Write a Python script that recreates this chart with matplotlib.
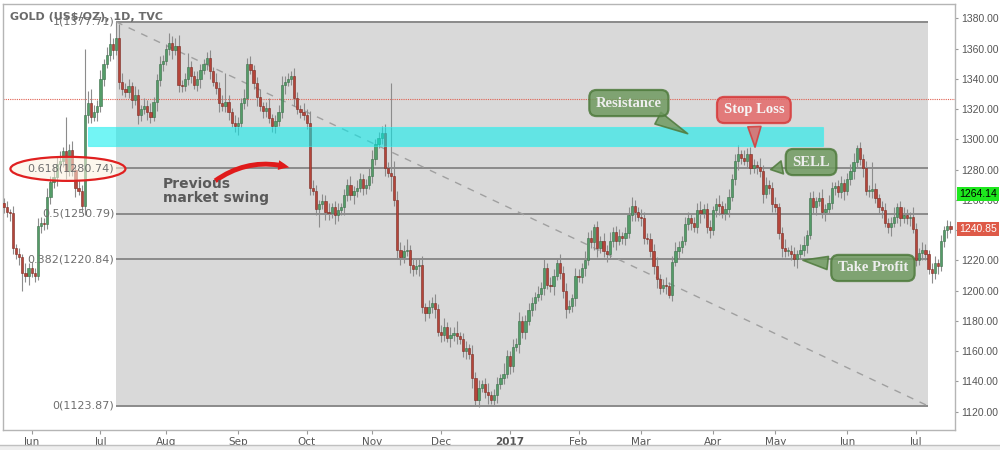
import numpy as np
import pandas as pd
import matplotlib
matplotlib.use('Agg')
import matplotlib.pyplot as plt
from matplotlib.patches import Rectangle, Ellipse

# daily closes, GOLD (US$/OZ) TVC, from 2016-05-19 (business days)
closes = [
    1255, 1252, 1251, 1228, 1224, 1222, 1212, 1210, 1215, 1212,
    1210, 1243, 1245, 1244, 1262, 1272, 1275, 1284, 1286, 1292,
    1279, 1293, 1280, 1268, 1266, 1256, 1316, 1324, 1315, 1318,
    1322, 1340, 1350, 1356, 1363, 1359, 1367, 1338, 1333, 1331,
    1335, 1326, 1329, 1316, 1320, 1322, 1318, 1315, 1325, 1339,
    1350, 1352, 1360, 1364, 1359, 1362, 1336, 1335, 1340, 1348,
    1342, 1336, 1340, 1346, 1350, 1354, 1345, 1338, 1334, 1324,
    1322, 1325, 1318, 1311, 1309, 1311, 1324, 1327, 1350, 1346,
    1337, 1328, 1322, 1319, 1321, 1314, 1309, 1312, 1318, 1336,
    1338, 1340, 1342, 1327, 1320, 1318, 1316, 1311, 1268, 1266,
    1254, 1257, 1259, 1252, 1251, 1255, 1250, 1253, 1255, 1263,
    1270, 1263, 1266, 1268, 1274, 1268, 1270, 1276, 1287, 1297,
    1301, 1304, 1281, 1278, 1276, 1260, 1227, 1222, 1226, 1227,
    1217, 1214, 1216, 1217, 1189, 1185, 1189, 1192, 1188, 1173,
    1171, 1176, 1169, 1171, 1172, 1170, 1168, 1160, 1162, 1158,
    1142, 1128, 1136, 1138, 1133, 1131, 1128, 1131, 1138, 1142,
    1145, 1157, 1150, 1163, 1165, 1180, 1173, 1180, 1187, 1192,
    1196, 1198, 1202, 1215, 1204, 1203, 1210, 1218, 1212, 1200,
    1188, 1190, 1195, 1210, 1209, 1215, 1220, 1235, 1232, 1242,
    1228, 1233, 1226, 1224, 1233, 1239, 1233, 1236, 1235, 1238,
    1250, 1256, 1252, 1249, 1248, 1235, 1234, 1226, 1216, 1208,
    1202, 1204, 1203, 1197, 1219, 1226, 1229, 1233, 1244, 1248,
    1245, 1242, 1253, 1251, 1254, 1242, 1240, 1253, 1257, 1256,
    1251, 1254, 1262, 1274, 1286, 1290, 1288, 1286, 1290, 1281,
    1283, 1282, 1279, 1264, 1270, 1268, 1257, 1255, 1238, 1228,
    1226, 1226, 1224, 1221, 1224, 1227, 1230, 1237, 1261, 1255,
    1259, 1261, 1252, 1254, 1258, 1268, 1269, 1265, 1271, 1266,
    1274, 1279, 1285, 1294, 1287, 1281, 1266, 1266, 1267, 1261,
    1255, 1253, 1245, 1242, 1245, 1249, 1255, 1248, 1250, 1248,
    1249, 1241, 1220, 1225, 1227, 1224, 1214, 1212, 1218, 1216,
    1233, 1240, 1243, 1240.85,
]
first_open = 1258

# wick lengths above / below the body
hi_wick = [
    3, 4, 2, 5, 3, 4, 2, 6, 3, 4, 3, 5, 4, 3, 6, 4, 7, 5, 6, 3,
    23, 4, 6, 3, 5, 4, 44, 8, 9, 5, 4, 6, 3, 5, 7, 4, 10.71, 9, 6, 4,
    5, 3, 6, 4, 3, 5, 4, 6, 3, 4, 5, 4, 3, 6, 4, 5, 7, 3, 4, 9,
    4, 3, 5, 4, 3, 4, 5, 3, 6, 4, 5, 19, 4, 3, 5, 4, 3, 6, 4, 5,
    3, 4, 5, 3, 4, 6, 3, 4, 5, 6, 4, 4, 3, 5, 4, 3, 6, 4, 8, 5,
    4, 3, 5, 4, 6, 3, 4, 5, 3, 4, 4, 6, 3, 5, 4, 3, 4, 5, 6, 3,
    4, 5, 6, 4, 59, 10, 6, 5, 4, 7, 3, 4, 5, 4, 6, 3, 5, 4, 6, 3,
    4, 6, 3, 5, 4, 8, 3, 4, 5, 3, 6, 4, 5, 3, 4, 6, 3, 4, 5, 3,
    7, 4, 3, 5, 4, 6, 3, 4, 5, 4, 3, 5, 4, 6, 3, 5, 4, 3, 6, 4,
    5, 4, 3, 5, 4, 3, 6, 4, 5, 2, 4, 3, 5, 4, 6, 3, 4, 5, 3, 4,
    5, 6, 4, 3, 5, 4, 3, 4, 5, 6, 3, 4, 5, 3, 4, 6, 4, 3, 5, 4,
    3, 4, 5, 6, 3, 4, 5, 3, 4, 6, 3, 4, 5, 3, 4, 6, 3, 5, 4, 5,
    4, 3, 6, 4, 5, 3, 4, 5, 3, 4, 6, 3, 4, 5, 3, 4, 6, 3, 4, 5,
    3, 4, 6, 3, 5, 4, 3, 4, 5, 3, 4, 5, 6, 2, 4, 3, 5, 4, 18, 4,
    3, 4, 5, 3, 4, 6, 3, 4, 5, 4, 3, 6, 4, 3, 5, 4, 3, 4, 5, 3,
    4, 3, 4, 3,
]
lo_wick = [
    4, 3, 5, 4, 3, 5, 12, 4, 6, 3, 4, 3, 5, 4, 3, 5, 4, 6, 3, 4,
    5, 3, 4, 6, 3, 4, 6, 5, 4, 3, 6, 4, 5, 3, 4, 6, 3, 5, 4, 3,
    4, 5, 3, 6, 4, 3, 5, 4, 3, 6, 4, 5, 3, 4, 6, 3, 5, 4, 3, 4,
    5, 3, 4, 6, 3, 4, 5, 3, 4, 6, 3, 4, 5, 3, 4, 6, 3, 4, 5, 3,
    4, 6, 3, 5, 4, 3, 4, 5, 3, 4, 6, 3, 4, 5, 3, 4, 3, 4, 5, 3,
    4, 12, 3, 5, 4, 3, 6, 4, 3, 5, 4, 3, 6, 4, 3, 5, 4, 3, 5, 4,
    3, 4, 5, 3, 10, 4, 6, 5, 4, 3, 5, 4, 3, 6, 4, 5, 3, 4, 6, 3,
    5, 4, 3, 6, 4, 5, 3, 4, 5, 3, 6, 4.13, 5, 3, 4, 6, 3, 4, 5, 3,
    4, 3, 5, 4, 3, 6, 4, 5, 3, 4, 5, 3, 4, 5, 3, 4, 6, 3, 4, 5,
    6, 3, 4, 5, 3, 4, 5, 3, 4, 5, 6, 3, 4, 5, 3, 4, 6, 3, 4, 5,
    3, 4, 6, 3, 5, 4, 3, 4, 5, 6, 4, 3, 5, 2, 4, 3, 5, 4, 3, 4,
    5, 3, 4, 6, 3, 4, 5, 3, 4, 6, 3, 4, 5, 3, 4, 6, 4, 3, 5, 4,
    3, 5, 4, 6, 3, 4, 5, 3, 4, 6, 4, 3, 4, 5, 6, 3, 4, 5, 3, 4,
    5, 3, 4, 6, 3, 4, 5, 3, 4, 6, 3, 4, 5, 3, 4, 6, 3, 4, 5, 3,
    4, 5, 3, 4, 6, 3, 4, 5, 3, 4, 5, 3, 4, 3, 5, 4, 3, 7, 4, 5,
    3, 4, 5, 3,
]

# fibonacci retracement
fib_ratios = [1, 0.618, 0.5, 0.382, 0]
fib_prices = [1377.71, 1280.74, 1250.79, 1220.84, 1123.87]
fib_start, fib_end = 36, 295.8          # bar index range of the fib box

resist_lo, resist_hi = 1295.6, 1308.2   # resistance zone
resist_start, resist_end = 27, 262.2
red_level = 1326.7
green_tag = 1264.14
y_ticks = list(range(1120, 1381, 20))

n = len(closes)
dates = pd.bdate_range('2016-05-19', periods=n)
opens = [first_open] + closes[:-1]
o = np.array(opens, dtype=float)
c = np.array(closes, dtype=float)
highs = np.maximum(o, c) + np.array(hi_wick[:n])
lows = np.minimum(o, c) - np.array(lo_wick[:n])
idx = np.arange(n)

fig = plt.figure(figsize=(10, 4.5), dpi=100)
fig.patch.set_facecolor('white')
ax = fig.add_axes([0.003, 0.0444, 0.952, 0.9467])
ax.set_facecolor('white')
ax.set_xlim(-0.18, 304.46)
ax.set_ylim(1107.9, 1389.45)

# fib background box
ax.add_patch(Rectangle((fib_start, fib_prices[-1]), fib_end - fib_start,
                       fib_prices[0] - fib_prices[-1], fc='#d9d9d9', ec='none', zorder=0))
for r, p in zip(fib_ratios, fib_prices):
    ax.hlines(p, fib_start, fib_end, color='#8a8a8a', lw=1.4, zorder=1)
    ax.text(fib_start - 0.6, p, f'{r:g}({p:.2f})', ha='right', va='center',
            fontsize=8, color='#6e6e6e', zorder=6)
ax.plot([fib_start, fib_end], [fib_prices[0], fib_prices[-1]], color='#a0a0a0',
        lw=1, ls=(0, (5, 5)), zorder=1)

# red dotted line
ax.axhline(red_level, color='#e06050', lw=0.8, ls=(0, (1, 1)), zorder=1)

# candles
up = c >= o
ax.vlines(idx, lows, highs, color='#8c8c8c', lw=0.8, zorder=2)
body = np.maximum(np.abs(c - o), 0.6)
ax.bar(idx[up], body[up], bottom=np.minimum(o, c)[up], width=0.75,
       color='#549c68', edgecolor='#3b6e4a', lw=0.4, zorder=3)
ax.bar(idx[~up], body[~up], bottom=np.minimum(o, c)[~up], width=0.75,
       color='#b5453a', edgecolor='#7a2a22', lw=0.4, zorder=3)

# resistance zone
ax.add_patch(Rectangle((resist_start, resist_lo), resist_end - resist_start,
                       resist_hi - resist_lo, fc='#00eeee', alpha=0.55,
                       ec='#30f0f0', lw=0.8, zorder=4))

# ellipse around 0.618
ax.add_patch(Ellipse((20.6, 1280.5), 36.8, 15.9, fc='#fdf2df', alpha=0.55,
                     ec='none', zorder=5))
ax.add_patch(Ellipse((20.6, 1280.5), 36.8, 15.9, fc='none',
                     ec='#e02020', lw=1.6, zorder=5))

# previous market swing
ax.annotate('', xy=(92.3, 1281.0), xytext=(67.0, 1271.5),
            arrowprops=dict(arrowstyle='simple,head_width=0.7,head_length=0.8,tail_width=0.35',
                            connectionstyle='arc3,rad=-0.25', color='#e01a1a', lw=0),
            zorder=6)
ax.text(51, 1266, 'Previous\nmarket swing', ha='left', va='center', fontsize=10,
        fontweight='bold', color='#5a5a5a', linespacing=0.95, zorder=6)

# callouts
def callout(text, xy, xytext, fc, ec, tc):
    ax.annotate(text, xy=xy, xytext=xytext, ha='center', va='center',
                fontsize=10.5, fontweight='bold', family='Liberation Serif', color=tc,
                bbox=dict(boxstyle='round,pad=0.45,rounding_size=0.5', fc=fc, ec=ec, lw=1.6, alpha=0.85),
                arrowprops=dict(arrowstyle='wedge,tail_width=0.9,shrink_factor=0.5',
                                fc=fc, ec=ec, lw=1.2, alpha=0.85),
                zorder=7)

callout('Resistance', (219.7, 1302.9), (200.1, 1324.0), '#6f9a60', '#4e7a3c', '#eeeeee')
callout('Stop Loss', (240.5, 1293.0), (240.1, 1319.4), '#e46a6a', '#d63a3a', '#f6f6f6')
callout('SELL', (244.6, 1279.7), (258.4, 1285.0), '#6f9a60', '#4e7a3c', '#eeeeee')
callout('Take Profit', (254.9, 1220.3), (278.2, 1215.0), '#6f9a60', '#4e7a3c', '#eeeeee')

# axes styling
ax.yaxis.tick_right()
ax.set_yticks(y_ticks)
ax.set_yticklabels([f'{v:.2f}' for v in y_ticks], family='Liberation Sans')
ax.tick_params(axis='y', labelsize=7.5, colors='#555555', length=2.5, pad=2)
ax.tick_params(axis='y', color='#999999')

month_pos, month_lab = [], []
for i in range(1, n):
    if dates[i].month != dates[i - 1].month:
        month_pos.append(i)
        month_lab.append('2017' if dates[i].month == 1 else dates[i].strftime('%b'))
ax.set_xticks(month_pos)
ax.tick_params(axis='x', labelsize=7.5, colors='#555555', length=3, pad=2)
ax.tick_params(axis='x', color='#999999')
xlabs = ax.set_xticklabels(month_lab, fontsize=7.5, color='#555555')
for lab in xlabs:
    if lab.get_text() == '2017':
        lab.set_fontweight('bold')
for s in ax.spines.values():
    s.set_color('#b5b5b5')
    s.set_linewidth(1)

# price tags on the right axis
tr = ax.get_yaxis_transform()
ax.text(1.004, green_tag, f'{green_tag:.2f}', transform=tr, ha='left', va='center',
        fontsize=7.5, family='Liberation Sans', color='black', clip_on=False, zorder=10,
        bbox=dict(boxstyle='square,pad=0.2', fc='#1ee81e', ec='none'))
ax.text(1.004, closes[-1], f'{closes[-1]:.2f}', transform=tr, ha='left', va='center',
        fontsize=7.5, family='Liberation Sans', color='white', clip_on=False, zorder=10,
        bbox=dict(boxstyle='square,pad=0.2', fc='#de5a48', ec='none'))

fig.text(0.01, 0.962, 'GOLD (US$/OZ), 1D, TVC', fontsize=8, fontweight='bold',
         color='#6a6a6a', ha='left', va='center')

# bottom border strip
fig.patches.append(Rectangle((0, 0), 1, 5 / 450, transform=fig.transFigure,
                             fc='#eeeeee', ec='none'))
fig.lines.append(plt.Line2D([0, 1], [5 / 450, 5 / 450], transform=fig.transFigure,
                            color='#c0c0c0', lw=1))

fig.savefig('out.png', dpi=100)
